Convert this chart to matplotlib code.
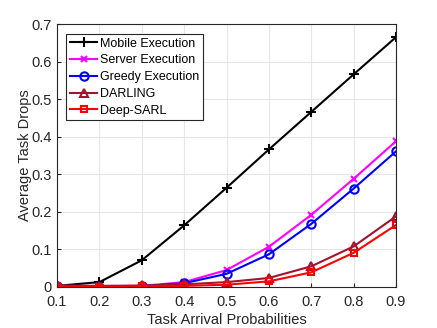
import numpy as np
import matplotlib
matplotlib.use("Agg")
import matplotlib.pyplot as plt

plt.rcParams['font.family'] = ['Liberation Sans', 'DejaVu Sans']

# data
prob = [0.1, 0.2, 0.3, 0.4, 0.5, 0.6, 0.7, 0.8, 0.9]
mobile = [0.003, 0.013, 0.071, 0.164, 0.264, 0.366, 0.466, 0.566, 0.665]
server = [0.003, 0.002, 0.003, 0.013, 0.045, 0.107, 0.192, 0.288, 0.388]
greedy = [0.002, 0.001, 0.002, 0.010, 0.035, 0.087, 0.168, 0.262, 0.361]
darling = [0.004, 0.003, 0.004, 0.007, 0.013, 0.024, 0.055, 0.108, 0.188]
deep_sarl = [0.002, 0.001, 0.002, 0.003, 0.006, 0.015, 0.039, 0.091, 0.165]

fig = plt.figure(figsize=(4.37, 3.28), dpi=100)
ax = fig.add_axes([57/437, 1-287/328, (396-57)/437, (287-24)/328])

ax.plot(prob, mobile, color='k', marker='+', ms=7, mew=1.5, lw=1.5, label='Mobile Execution')
ax.plot(prob, server, color='#FF00FF', marker='x', ms=5, mew=1.5, lw=1.5, label='Server Execution')
ax.plot(prob, greedy, color='#0000FF', marker='o', ms=6, mew=1.5, mfc='none', lw=1.5, label='Greedy Execution')
ax.plot(prob, darling, color='#A2142F', marker='^', ms=6, mew=1.5, mfc='none', lw=1.5, label='DARLING')
ax.plot(prob, deep_sarl, color='#FF0000', marker='s', ms=5, mew=1.5, mfc='none', lw=1.5, label='Deep-SARL')

ax.set_xlim(0.1, 0.9)
ax.set_ylim(0, 0.7)
ax.set_xticks(prob)
ax.set_yticks(np.arange(0, 0.71, 0.1))
ax.set_xticklabels(['0.1', '0.2', '0.3', '0.4', '0.5', '0.6', '0.7', '0.8', '0.9'])
ax.set_yticklabels(['0', '0.1', '0.2', '0.3', '0.4', '0.5', '0.6', '0.7'])
ax.tick_params(direction='in', labelsize=10.5, colors='#262626', length=3)
ax.tick_params(axis='x', pad=6)
ax.tick_params(axis='y', pad=4)
ax.grid(True, color='#e6e6e6', lw=0.8)
for s in ax.spines.values():
    s.set_color('#262626')
    s.set_linewidth(0.8)
ax.set_xlabel('Task Arrival Probabilities', fontsize=10.5, color='#262626', labelpad=3)
ax.set_ylabel('Average Task Drops', fontsize=10.5, color='#262626', labelpad=-1)

leg = ax.legend(loc='upper left', bbox_to_anchor=(0.027, 0.962), fontsize=9, fancybox=False,
                edgecolor='#262626', framealpha=1, handlelength=2.2, handletextpad=0.2,
                labelspacing=0.38, borderpad=0.3, borderaxespad=0)
leg.get_frame().set_linewidth(0.8)

fig.savefig('out.png', dpi=100)
